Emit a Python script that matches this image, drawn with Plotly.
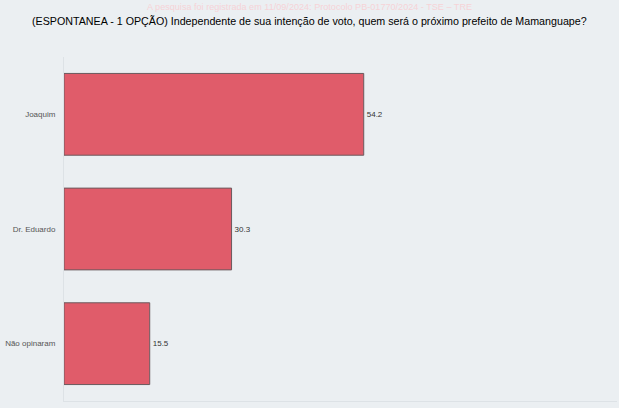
import plotly.graph_objects as go

# Poll results (%)
candidatos = ['Joaquim', 'Dr. Eduardo', 'Não opinaram']
percentuais = [54.2, 30.3, 15.5]

titulo = '(ESPONTANEA - 1 OPÇÃO) Independente de sua intenção de voto, quem será o próximo prefeito de Mamanguape?'
registro = 'A pesquisa foi registrada em 11/09/2024: Protocolo PB-01770/2024 - TSE – TRE'

fig = go.Figure(go.Bar(
    x=percentuais,
    y=candidatos,
    orientation='h',
    marker=dict(color='#e05c6a', line=dict(color='#6b5a5e', width=1)),
    text=[str(v) for v in percentuais],
    textposition='outside',
    textfont=dict(size=8, color='#333333'),
    cliponaxis=False,
))

# headings centred on the whole figure, not the plot area
cx = (619 / 2 - 64) / (619 - 64 - 2)

fig.update_layout(
    width=619,
    height=408,
    paper_bgcolor='#ebeff2',
    plot_bgcolor='#ebeff2',
    font=dict(family='Liberation Sans, Arial, sans-serif'),
    margin=dict(l=64, r=2, t=57, b=7),
    bargap=0.287,
    showlegend=False,
    annotations=[
        dict(text=registro, xref='paper', yref='paper', x=cx, y=1,
             xanchor='center', yanchor='bottom', yshift=43, showarrow=False,
             font=dict(size=9.1, color='#f6d3d7')),
        dict(text=titulo, xref='paper', yref='paper', x=cx, y=1,
             xanchor='center', yanchor='bottom', yshift=28, showarrow=False,
             font=dict(size=10.7, color='#000000')),
    ],
)
fig.update_xaxes(range=[0, 100], showgrid=False, showticklabels=False, zeroline=False,
                 showline=True, linecolor='#dde2e6', linewidth=1)
fig.update_yaxes(autorange='reversed', showgrid=False, showline=True, linecolor='#dde2e6',
                 linewidth=1, tickfont=dict(size=8, color='#555555'), ticklabelstandoff=6)

# page margin off so the 619x408 figure fills the window
fig.write_html('out.html', config={'displayModeBar': False},
               post_script="document.body.style.margin='0';")
